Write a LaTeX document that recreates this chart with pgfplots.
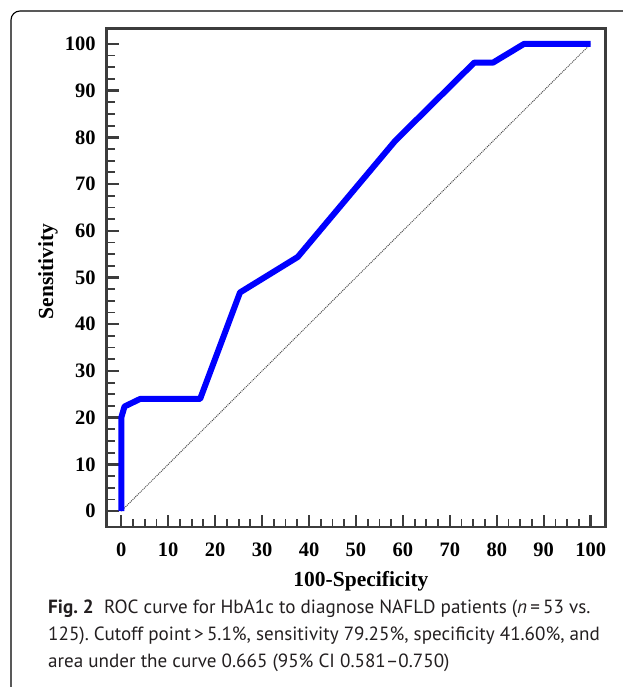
\documentclass[border=0pt]{standalone}
\usepackage{fontspec}
\setmainfont{Liberation Serif}
\newfontfamily\capfont{PT Sans}
\usepackage{pgfplots}
\pgfplotsset{compat=1.18}
\definecolor{framegray}{RGB}{60,60,60}
\definecolor{rocblue}{RGB}{0,0,255}
\definecolor{captext}{RGB}{35,31,32}
\frenchspacing

\pgfplotstableread{
x y
0 0
0 20
0.7 22.4
4 24
16.8 24
25.3 46.8
37.6 54.4
58.4 79.3
75.2 96
79.2 96
85.8 100
100 100
}\roc

\begin{document}
\begin{tikzpicture}[x=1pt,y=1pt]
% figure box (runs past the right and bottom edges)
\draw[line width=1.1pt, rounded corners=9pt] (11,-11) rectangle (680,-720);
\begin{axis}[
  at={(106.7pt,-527pt)}, anchor=south west,
  width=498.5pt, height=498.5pt, scale only axis,
  xmin=-3.1, xmax=103.1, ymin=-3.4, ymax=103.3,
  xtick={0,10,...,100}, ytick={0,10,...,100},
  minor tick num=3,
  tick pos=left, tick align=inside,
  major tick length=12.5pt, minor tick length=8pt,
  every major tick/.append style={framegray, line width=2.4pt},
  every minor tick/.append style={framegray, line width=1.8pt},
  axis line style={framegray, line width=2.6pt},
  /pgf/number format/assume math mode=true,
  tick label style={font=\fontsize{20.5}{24}\selectfont\bfseries, inner sep=0pt},
  xticklabel style={anchor=north, yshift=-16pt},
  yticklabel style={anchor=east, xshift=-11pt},
  xlabel={100-Specificity}, ylabel={Sensitivity},
  label style={font=\fontsize{21.5}{26}\selectfont\bfseries, inner sep=0pt},
  xlabel style={at={(axis description cs:0.51,-0.12)}, anchor=base},
  ylabel style={at={(axis description cs:-0.118,0.513)}, anchor=center},
]
\addplot[black!70, densely dotted, line width=1pt] coordinates {(0,0) (100,100)};
\addplot[rocblue, line width=6pt, line join=round] table {\roc};
\end{axis}

\begin{scope}[every node/.style={anchor=base west, inner sep=0pt, text=captext,
    font=\capfont\fontsize{19.1}{26}\selectfont}]
\node at (48,-613) {\textbf{Fig. 2}\hspace{0.55em}ROC curve for HbA1c to diagnose NAFLD patients (\textit{n}\,=\,53 vs.};
\node at (48,-640) {125). Cutoff point\,>\,5.1\%, sensitivity 79.25\%, specificity 41.60\%, and};
\node at (48,-667) {area under the curve 0.665 (95\% CI 0.581–0.750)};
\end{scope}

\pgfresetboundingbox
\path[use as bounding box] (0,0) rectangle (622,-687);
\end{tikzpicture}
\end{document}
